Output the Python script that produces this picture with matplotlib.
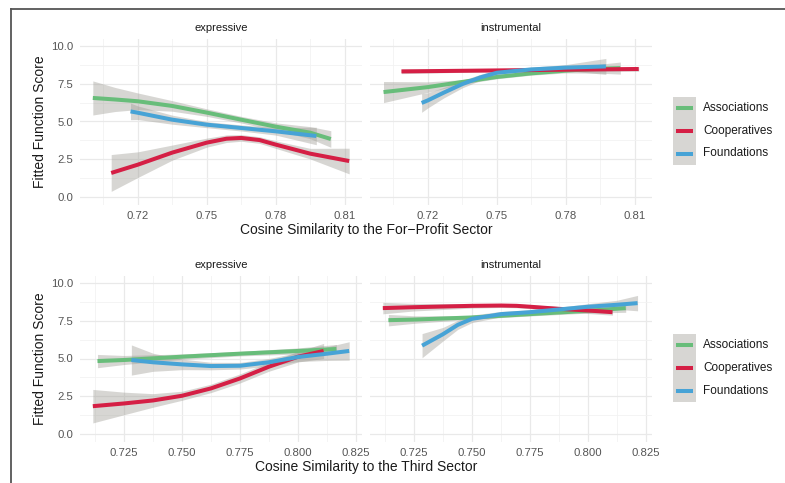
import matplotlib
matplotlib.use('Agg')
import matplotlib.pyplot as plt
from matplotlib.lines import Line2D
from matplotlib.patches import Rectangle
import numpy as np

plt.rcParams['font.family'] = ['Liberation Sans', 'DejaVu Sans']

groups = ['Associations', 'Cooperatives', 'Foundations']
colors = {'Associations': '#68bd7a', 'Cooperatives': '#d51f45', 'Foundations': '#47a3d6'}
facets = ['expressive', 'instrumental']

# ---- row 1: similarity to the for-profit sector: (x, fitted, half band) ----
fp_exp_assoc = ([0.7004, 0.71, 0.72, 0.735, 0.75, 0.765, 0.78, 0.795, 0.804],
                [6.56, 6.46, 6.34, 6.03, 5.59, 5.12, 4.66, 4.26, 3.84],
                [1.13, 0.8, 0.55, 0.35, 0.25, 0.22, 0.25, 0.4, 0.55])
fp_exp_coop = ([0.7084, 0.72, 0.735, 0.75, 0.7586, 0.765, 0.773, 0.78, 0.795, 0.812],
               [1.59, 2.14, 2.94, 3.6, 3.86, 3.91, 3.77, 3.47, 2.87, 2.38],
               [1.22, 0.85, 0.5, 0.3, 0.25, 0.22, 0.22, 0.25, 0.35, 0.85])
fp_exp_found = ([0.7168, 0.72, 0.735, 0.75, 0.765, 0.78, 0.7977],
                [5.67, 5.58, 5.12, 4.79, 4.57, 4.35, 4.04],
                [0.55, 0.45, 0.3, 0.2, 0.2, 0.25, 0.58])
fp_ins_assoc = ([0.7007, 0.72, 0.735, 0.75, 0.765, 0.78, 0.795, 0.8038],
                [6.95, 7.28, 7.62, 7.95, 8.19, 8.37, 8.5, 8.54],
                [0.7, 0.35, 0.15, 0.12, 0.12, 0.15, 0.3, 0.4])
fp_ins_coop = ([0.7085, 0.735, 0.76, 0.785, 0.8118],
               [8.32, 8.36, 8.4, 8.44, 8.48],
               [0.15, 0.1, 0.08, 0.1, 0.15])
fp_ins_found = ([0.7173, 0.72, 0.7269, 0.735, 0.7428, 0.75, 0.765, 0.78, 0.7975],
                [6.23, 6.4, 6.91, 7.48, 7.92, 8.23, 8.45, 8.57, 8.65],
                [0.62, 0.5, 0.35, 0.25, 0.2, 0.18, 0.15, 0.2, 0.53])

# ---- row 2: similarity to the third sector ----
ts_exp_assoc = ([0.7136, 0.725, 0.75, 0.775, 0.8, 0.8165],
                [4.83, 4.9, 5.12, 5.32, 5.5, 5.63],
                [0.44, 0.3, 0.18, 0.15, 0.2, 0.3])
ts_exp_coop = ([0.7116, 0.725, 0.7375, 0.75, 0.7625, 0.775, 0.7875, 0.8, 0.811],
               [1.84, 2.02, 2.22, 2.53, 3.02, 3.68, 4.46, 5.12, 5.5],
               [1.11, 0.75, 0.45, 0.3, 0.28, 0.3, 0.3, 0.35, 0.5])
ts_exp_found = ([0.7282, 0.7375, 0.75, 0.7625, 0.775, 0.7875, 0.8, 0.8125, 0.822],
                [4.9, 4.75, 4.61, 4.5, 4.52, 4.75, 5.1, 5.32, 5.5],
                [1.0, 0.6, 0.35, 0.25, 0.22, 0.25, 0.3, 0.45, 0.61])
ts_ins_assoc = ([0.714, 0.725, 0.75, 0.775, 0.8, 0.8162],
                [7.54, 7.58, 7.72, 7.94, 8.16, 8.34],
                [0.38, 0.25, 0.12, 0.12, 0.15, 0.28])
ts_ins_coop = ([0.7116, 0.725, 0.75, 0.7625, 0.7692, 0.775, 0.7875, 0.8, 0.8105],
               [8.34, 8.4, 8.49, 8.51, 8.49, 8.43, 8.29, 8.18, 8.07],
               [0.38, 0.25, 0.15, 0.13, 0.13, 0.13, 0.15, 0.2, 0.2])
ts_ins_found = ([0.7285, 0.7375, 0.7439, 0.75, 0.7625, 0.775, 0.7875, 0.8, 0.8125, 0.8213],
                [5.85, 6.61, 7.23, 7.63, 7.94, 8.07, 8.25, 8.43, 8.56, 8.67],
                [0.8, 0.45, 0.3, 0.25, 0.18, 0.15, 0.15, 0.2, 0.3, 0.51])

fp_xticks = [0.72, 0.75, 0.78, 0.81]
fp_xticklabels = ['0.72', '0.75', '0.78', '0.81']
ts_xticks = [0.725, 0.75, 0.775, 0.8, 0.825]
ts_xticklabels = ['0.725', '0.750', '0.775', '0.800', '0.825']
yticks = [0, 2.5, 5, 7.5, 10]
yticklabels = ['0.0', '2.5', '5.0', '7.5', '10.0']

rows = [
    dict(title='Cosine Similarity to the For\u2212Profit Sector',
         series={'expressive': [fp_exp_assoc, fp_exp_coop, fp_exp_found],
                 'instrumental': [fp_ins_assoc, fp_ins_coop, fp_ins_found]},
         xticks=fp_xticks, xticklabels=fp_xticklabels, top=38.5),
    dict(title='Cosine Similarity to the Third Sector',
         series={'expressive': [ts_exp_assoc, ts_exp_coop, ts_exp_found],
                 'instrumental': [ts_ins_assoc, ts_ins_coop, ts_ins_found]},
         xticks=ts_xticks, xticklabels=ts_xticklabels, top=275.5),
]

W, H = 785, 483
fig = plt.figure(figsize=(W / 100, H / 100), dpi=100)
ph = 166
pw = 282
lefts = [80, 370]
band = '#9c9a92'


def frac(x, y):
    return x / W, 1 - y / H


for row in rows:
    # shared x range with ggplot's 5% expansion
    allx = [v for f in facets for s in row['series'][f] for v in s[0]]
    lo, hi = min(allx), max(allx)
    pad = (hi - lo) * 0.05
    xt = row['xticks']
    minors = [(a + b) / 2 for a, b in zip(xt[:-1], xt[1:])]
    step = xt[1] - xt[0]
    minors = [xt[0] - step / 2] + minors + [xt[-1] + step / 2]
    for i, f in enumerate(facets):
        ax = fig.add_axes([lefts[i] / W, 1 - (row['top'] + ph) / H, pw / W, ph / H])
        for s in ax.spines.values():
            s.set_visible(False)
        ax.set_xticks(xt)
        ax.set_xticks(minors, minor=True)
        ax.set_yticks(yticks)
        ax.set_yticks([1.25, 3.75, 6.25, 8.75], minor=True)
        # limits after ticks, otherwise set_xticks widens the view
        ax.set_xlim(lo - pad, hi + pad)
        ax.set_ylim(-0.5, 10.5)
        ax.grid(True, which='major', color='#e9e9e9', lw=0.9)
        ax.grid(True, which='minor', color='#f2f2f2', lw=0.6)
        ax.set_axisbelow(True)
        ax.tick_params(which='both', length=0)
        ax.tick_params(axis='x', pad=5, labelsize=8.2, labelcolor='#555555')
        ax.tick_params(axis='y', pad=5, labelsize=8.2, labelcolor='#555555')
        ax.set_xticklabels(row['xticklabels'])
        if i == 0:
            ax.set_yticklabels(yticklabels)
        else:
            ax.set_yticklabels([])
        for g, (x, y, se) in zip(groups, row['series'][f]):
            x = np.array(x)
            y = np.array(y)
            se = np.array(se)
            ax.fill_between(x, y - se, y + se, color=band, alpha=0.4, lw=0)
            ax.plot(x, y, color=colors[g], lw=2.9, solid_capstyle='butt',
                    solid_joinstyle='round')
        ax.text(0.5, 1.063, f, transform=ax.transAxes, ha='center', va='center',
                fontsize=8, color='#1a1a1a')

    t = row['top']
    fig.text(*frac(40, t + ph / 2), 'Fitted Function Score', rotation=90,
             ha='center', va='center', fontsize=10, color='#1a1a1a')
    fig.text(*frac(366, t + ph + 25.5), row['title'], ha='center', va='center',
             fontsize=10, color='#1a1a1a')

    # legend keys
    ky = t + 58.5
    kh = 22.6
    x0, y0 = frac(673, ky + 3 * kh)
    fig.add_artist(Rectangle((x0, y0), 23 / W, 3 * kh / H, transform=fig.transFigure,
                             facecolor=band, alpha=0.4, lw=0))
    for j, g in enumerate(groups):
        cy = ky + kh * (j + 0.5)
        xa, ya = frac(676, cy)
        xb, _ = frac(693, cy)
        fig.add_artist(Line2D([xa, xb], [ya, ya], transform=fig.transFigure,
                              color=colors[g], lw=2.9, solid_capstyle='butt'))
        fig.text(*frac(703, cy), g, ha='left', va='center', fontsize=8.5, color='#1a1a1a')

# outer frame (top and left edges)
fig.add_artist(Line2D([11 / W, 1], [1 - 9 / H, 1 - 9 / H], transform=fig.transFigure,
                      color='#555555', lw=1.3))
fig.add_artist(Line2D([11 / W, 11 / W], [0, 1 - 9 / H], transform=fig.transFigure,
                      color='#555555', lw=1.3))

fig.savefig('out.png', dpi=100)
